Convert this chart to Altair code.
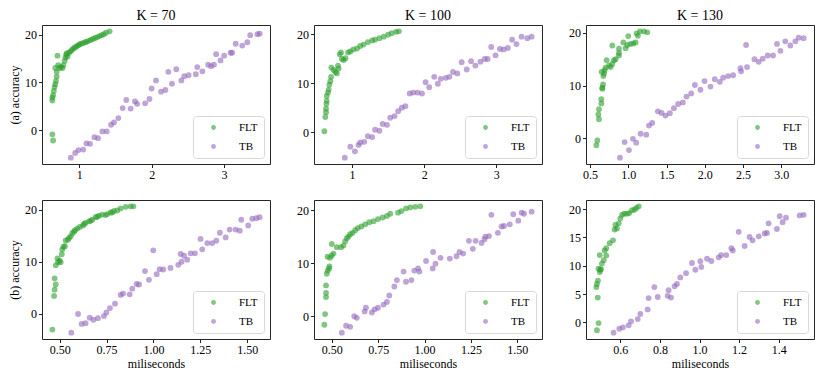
import altair as alt
import pandas as pd

# ---------------- data ----------------
# (a) K = 70
a70_flt_x = [0.63,0.64,0.63,0.63,0.64,0.65,0.66,0.67,0.68,0.69,0.69,0.67,0.70,0.71,0.73,0.75,0.77,0.78,0.80,0.81,0.82,0.83,0.84,0.86,0.88,0.90,0.92,0.94,0.96,0.98,1.00,1.02,1.05,1.08,1.10,1.13,1.16,1.19,1.22,1.25,1.28,1.31,1.34,1.37,1.42]
a70_flt_y = [-0.9,-2.2,6.2,6.8,7.3,8.2,9.0,9.6,10.3,11.2,12.2,13.0,15.6,13.6,13.0,13.2,13.0,13.6,14.5,15.2,15.8,16.1,15.4,16.2,16.5,16.8,17.1,17.3,17.5,17.7,17.9,18.1,18.2,18.4,18.5,18.7,18.9,19.1,19.3,19.5,19.7,19.9,20.1,20.4,20.7]
a70_tb_x = [0.885,0.945,0.99,1.055,1.10,1.15,1.21,1.26,1.32,1.38,1.44,1.48,1.54,1.60,1.65,1.71,1.77,1.80,1.91,1.97,2.00,2.06,2.13,2.19,2.23,2.28,2.34,2.41,2.45,2.51,2.61,2.63,2.70,2.78,2.82,2.86,2.89,2.95,3.00,3.09,3.11,3.16,3.25,3.32,3.36,3.46,3.49]
a70_tb_y = [-5.8,-4.8,-4.2,-4.1,-2.8,-2.9,-1.5,-1.7,-0.3,-0.3,1.1,1.6,2.5,4.6,6.3,4.5,6.0,5.5,5.6,6.5,8.7,10.4,8.05,8.4,12.2,9.7,12.75,10.4,11.3,11.5,11.7,13.2,12.3,13.7,13.4,13.7,15.9,14.6,15.6,16.2,16.2,18.1,17.7,18.4,19.9,20.1,20.2]

# (a) K = 100
a100_flt_x = [0.617,0.63,0.64,0.64,0.645,0.65,0.65,0.667,0.677,0.686,0.70,0.71,0.714,0.746,0.77,0.79,0.806,0.815,0.83,0.848,0.86,0.885,0.91,0.945,0.977,1.02,1.07,1.115,1.16,1.22,1.28,1.32,1.38,1.44,1.50,1.55,1.61,1.65]
a100_flt_y = [0.2,3.1,4.1,4.8,5.8,6.4,7.4,8.1,8.7,9.7,10.4,11.3,13.2,12.7,12.3,12.0,13.6,13.0,15.9,16.3,14.95,14.75,15.1,16.3,16.5,16.9,17.1,17.6,17.9,18.4,18.75,18.9,19.2,19.5,19.9,20.2,20.5,20.6]
a100_tb_x = [0.90,0.977,1.04,1.09,1.115,1.17,1.22,1.28,1.32,1.38,1.425,1.485,1.53,1.59,1.64,1.69,1.74,1.80,1.85,1.91,1.97,2.02,2.07,2.14,2.19,2.23,2.30,2.35,2.40,2.46,2.52,2.59,2.65,2.71,2.78,2.84,2.88,2.93,2.99,3.05,3.10,3.16,3.22,3.28,3.35,3.43,3.49]
a100_tb_y = [-5.2,-2.95,-3.9,-2.6,-2.1,-1.97,-0.8,-1.0,0.5,0.3,1.7,1.5,2.95,3.3,4.3,5.0,5.3,7.9,8.1,8.1,7.9,10.2,9.2,11.3,9.9,10.9,11.1,11.3,12.3,12.0,14.3,12.8,14.5,13.6,14.4,14.95,14.95,17.4,15.7,17.0,16.9,17.2,18.9,18.0,19.5,19.2,19.5]

# (a) K = 130
a130_flt_x = [0.583,0.596,0.617,0.609,0.617,0.648,0.648,0.661,0.661,0.67,0.652,0.674,0.683,0.691,0.704,0.717,0.748,0.77,0.791,0.813,0.835,0.878,0.791,0.878,0.878,0.935,0.965,0.987,1.0,1.03,1.065,1.096,1.109,1.126,1.152,1.204,1.248]
a130_flt_y = [-1.34,-0.43,3.6,4.5,5.5,6.6,7.4,9.4,9.6,10.2,12.6,11.8,12.3,12.9,13.4,14.8,13.8,13.5,14.1,14.8,15.0,15.7,17.6,16.2,17.0,18.2,17.1,17.7,19.4,17.9,18.0,18.2,19.9,19.45,20.3,20.3,20.1]
a130_tb_x = [0.891,0.952,1.009,1.061,1.104,1.161,1.235,1.27,1.313,1.387,1.435,1.487,1.543,1.596,1.652,1.713,1.761,1.822,1.87,1.943,1.996,2.074,2.13,2.196,2.239,2.304,2.37,2.465,2.474,2.539,2.552,2.648,2.704,2.757,2.822,2.891,2.943,2.987,3.052,3.117,3.183,3.226,3.291]
a130_tb_y = [-3.7,-0.73,-2.26,-0.12,-0.85,0.85,0.67,2.4,2.9,5.1,4.8,4.3,4.76,5.7,6.5,6.8,7.9,8.5,10.1,9.2,10.85,9.8,11.2,10.7,11.5,11.8,11.95,13.3,12.7,17.7,13.5,15.0,14.5,15.1,15.7,15.7,17.9,16.6,18.4,17.6,18.4,19.1,19.0]

# (b) K = 70
b70_flt_x = [0.461,0.47,0.473,0.479,0.473,0.479,0.488,0.491,0.50,0.505,0.511,0.514,0.52,0.528,0.532,0.544,0.55,0.559,0.567,0.576,0.582,0.594,0.607,0.624,0.63,0.638,0.656,0.665,0.674,0.692,0.70,0.71,0.727,0.745,0.754,0.772,0.78,0.79,0.807,0.825,0.852,0.878,0.893]
b70_flt_y = [-3.1,3.4,4.6,5.6,6.8,9.3,10.65,9.9,10.2,9.9,11.45,12.4,12.9,13.0,14.1,14.25,14.6,14.9,15.5,15.8,16.1,16.4,16.7,17.0,17.3,17.5,17.8,17.9,18.1,18.6,18.7,18.9,19.1,19.0,19.2,19.5,19.5,19.8,19.9,20.3,20.6,20.7,20.7]
b70_tb_x = [0.562,0.598,0.617,0.638,0.66,0.68,0.704,0.736,0.749,0.768,0.795,0.825,0.838,0.873,0.887,0.91,0.923,0.955,0.976,0.999,1.017,1.033,1.052,1.091,1.132,1.145,1.15,1.163,1.18,1.198,1.221,1.251,1.26,1.287,1.313,1.335,1.354,1.385,1.406,1.438,1.46,1.468,1.505,1.527,1.548,1.566]
b70_tb_y = [-3.7,-0.1,-2.0,-1.86,-0.8,-1.2,-0.9,-0.5,0.2,1.05,1.9,3.6,3.85,3.7,4.8,5.7,5.6,8.2,6.5,12.2,7.6,8.55,8.5,8.8,9.4,11.5,10.0,11.15,10.4,11.6,11.6,14.4,12.4,13.6,13.6,14.05,15.6,14.7,16.2,16.2,16.0,18.1,17.0,18.3,18.4,18.6]

# (b) K = 100
b100_flt_x = [0.46,0.464,0.469,0.469,0.469,0.473,0.478,0.486,0.487,0.477,0.491,0.50,0.509,0.50,0.527,0.55,0.563,0.572,0.581,0.59,0.599,0.612,0.626,0.64,0.659,0.68,0.702,0.725,0.749,0.774,0.797,0.815,0.857,0.875,0.90,0.923,0.95,0.977]
b100_flt_y = [-1.6,0.4,3.6,4.4,5.8,8.0,8.6,9.0,9.4,11.2,11.0,11.45,11.8,13.6,13.0,13.0,13.3,14.1,14.7,15.0,15.45,15.7,16.2,16.6,16.9,17.3,17.7,17.9,18.3,18.6,18.9,19.3,19.5,19.8,20.3,20.5,20.6,20.7]
b100_tb_x = [0.554,0.577,0.599,0.621,0.635,0.677,0.684,0.716,0.731,0.749,0.779,0.797,0.81,0.837,0.851,0.887,0.90,0.929,0.945,0.965,0.972,1.008,1.044,1.046,1.059,1.086,1.136,1.172,1.188,1.208,1.239,1.26,1.275,1.307,1.323,1.328,1.347,1.36,1.395,1.415,1.428,1.459,1.478,1.505,1.523,1.536,1.577]
b100_tb_y = [-3.1,-1.8,-2.0,0.0,-0.3,0.9,1.6,0.7,1.3,1.6,2.2,2.7,3.9,5.6,6.8,8.4,6.5,6.8,8.6,9.0,8.4,10.4,9.0,12.1,9.9,11.0,10.85,11.3,12.1,11.8,14.2,12.7,14.2,13.8,14.5,15.0,15.1,19.1,15.7,16.9,17.0,17.3,19.2,18.0,19.5,19.3,19.7]

# (b) K = 130
b130_flt_x = [0.482,0.49,0.486,0.479,0.482,0.487,0.49,0.496,0.499,0.502,0.496,0.507,0.516,0.521,0.529,0.529,0.546,0.563,0.571,0.575,0.583,0.592,0.60,0.609,0.62,0.634,0.645,0.659,0.671,0.681,0.693]
b130_flt_y = [-1.36,-0.1,4.4,6.25,6.8,7.4,9.5,8.9,9.3,9.4,11.9,10.4,11.0,12.7,11.8,13.1,14.0,14.5,16.4,17.2,16.6,17.5,18.35,19.0,19.2,19.2,19.3,19.8,19.9,20.2,20.5]
b130_tb_x = [0.566,0.595,0.613,0.642,0.654,0.688,0.701,0.738,0.743,0.772,0.789,0.839,0.844,0.856,0.874,0.886,0.903,0.932,0.962,0.979,1.004,1.009,1.038,1.06,1.097,1.109,1.135,1.161,1.168,1.198,1.228,1.253,1.268,1.299,1.329,1.341,1.349,1.391,1.405,1.42,1.437,1.506,1.526]
b130_tb_y = [-1.8,-1.1,-0.85,-0.5,0.2,0.6,1.5,2.3,4.3,6.25,4.5,4.7,5.7,4.4,6.4,6.8,7.95,8.7,10.5,9.3,10.8,9.8,11.25,10.85,11.5,11.9,11.9,13.1,12.7,16.0,13.5,15.1,14.5,15.2,15.7,15.8,17.5,16.5,18.75,17.7,18.5,18.9,19.0]

col_titles = ["K = 70", "K = 100", "K = 130"]
row_titles = ["(a) accuracy", "(b) accuracy"]
x_title = "miliseconds"
methods = ["FLT", "TB"]
colors = ["#2ca02c", "#9467bd"]

FONT = "Liberation Serif"
W, H = 228, 139


def pad(vals, frac=0.05):
    lo, hi = min(vals), max(vals)
    m = (hi - lo) * frac
    return [lo - m, hi + m]


def panel(fx, fy, tx, ty, title, ytitle, xtitle, xticks, xfmt, yticks):
    df = pd.DataFrame({
        "ms": fx + tx,
        "acc": fy + ty,
        "method": ["FLT"] * len(fx) + ["TB"] * len(tx),
    })
    xaxis = alt.Axis(values=xticks, format=xfmt, title=xtitle) if xtitle else alt.Axis(values=xticks, format=xfmt, title=None)
    yaxis = alt.Axis(values=yticks, format="d", title=ytitle) if ytitle else alt.Axis(values=yticks, format="d", title=None)
    ch = alt.Chart(df).mark_circle(size=34, opacity=0.6).encode(
        x=alt.X("ms:Q", scale=alt.Scale(domain=pad(fx + tx), nice=False, zero=False), axis=xaxis),
        y=alt.Y("acc:Q", scale=alt.Scale(domain=pad(fy + ty), nice=False, zero=False), axis=yaxis),
        color=alt.Color("method:N", scale=alt.Scale(domain=methods, range=colors),
                        legend=alt.Legend(orient="bottom-right", title=None)),
    )
    if title:
        ch = ch.properties(width=W, height=H, title=title)
    else:
        ch = ch.properties(width=W, height=H)
    return ch


p1 = panel(a70_flt_x, a70_flt_y, a70_tb_x, a70_tb_y, col_titles[0], row_titles[0], None, [1, 2, 3], "d", [0, 10, 20])
p2 = panel(a100_flt_x, a100_flt_y, a100_tb_x, a100_tb_y, col_titles[1], None, None, [1, 2, 3], "d", [0, 10, 20])
p3 = panel(a130_flt_x, a130_flt_y, a130_tb_x, a130_tb_y, col_titles[2], None, None, [0.5, 1.0, 1.5, 2.0, 2.5, 3.0], ".1f", [0, 10, 20])
p4 = panel(b70_flt_x, b70_flt_y, b70_tb_x, b70_tb_y, None, row_titles[1], x_title, [0.5, 0.75, 1.0, 1.25, 1.5], ".2f", [0, 10, 20])
p5 = panel(b100_flt_x, b100_flt_y, b100_tb_x, b100_tb_y, None, None, x_title, [0.5, 0.75, 1.0, 1.25, 1.5], ".2f", [0, 10, 20])
p6 = panel(b130_flt_x, b130_flt_y, b130_tb_x, b130_tb_y, None, None, x_title, [0.6, 0.8, 1.0, 1.2, 1.4], ".1f", [0, 5, 10, 15, 20])

row1 = alt.hconcat(p1, p2, p3, spacing=25).resolve_scale(color="independent").resolve_legend(color="independent")
row2 = alt.hconcat(p4, p5, p6, spacing=25).resolve_scale(color="independent").resolve_legend(color="independent")

chart = alt.vconcat(row1, row2, spacing=18).resolve_scale(color="independent").resolve_legend(color="independent").properties(
    padding={"left": 0, "top": 0, "right": 0, "bottom": 0}
).configure_view(
    stroke="#262626", strokeWidth=1
).configure_axis(
    domain=False, grid=False, ticks=True, tickColor="#222", tickSize=3.5, tickWidth=1,
    labelFont=FONT, labelFontSize=12, labelColor="black", labelPadding=2,
    titleFont=FONT, titleFontSize=12, titleFontWeight="normal", titleColor="black", titlePadding=3,
).configure_title(
    font=FONT, fontSize=14, fontWeight="normal", color="black", offset=2
).configure_legend(
    labelFont=FONT, labelFontSize=11, labelColor="black", symbolType="circle", symbolSize=24,
    symbolOpacity=0.6, symbolStrokeWidth=0, strokeColor="#d8d8d8", fillColor="white", cornerRadius=3,
    padding=6, offset=6, rowPadding=7, labelOffset=20, symbolOffset=9,
)

chart.save("out.html", embed_options={"renderer": "svg", "actions": False})
